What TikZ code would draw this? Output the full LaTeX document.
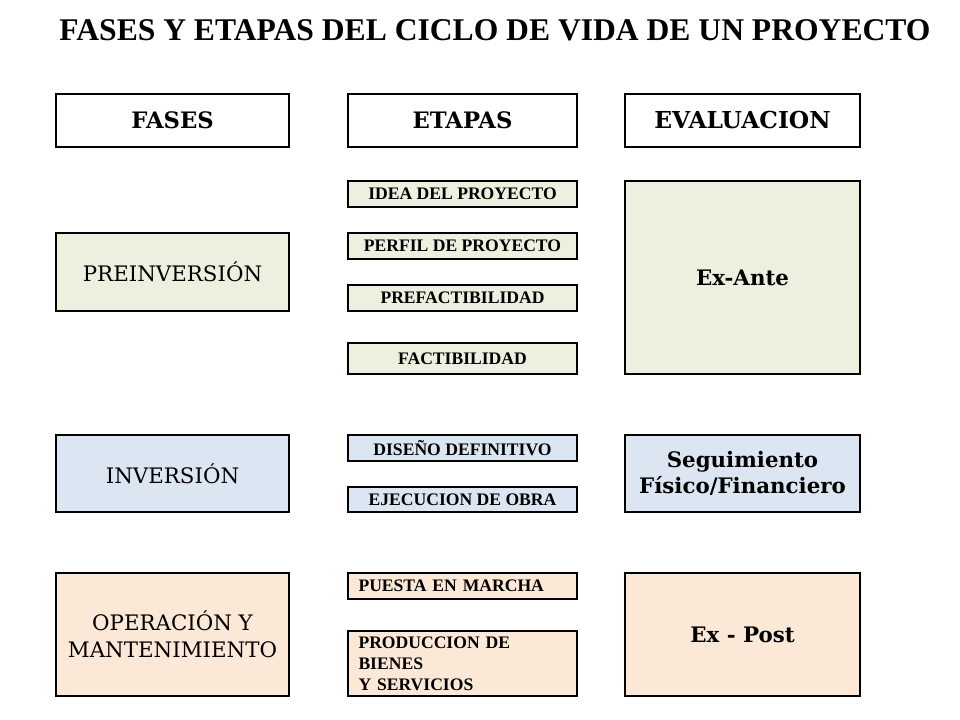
\documentclass[tikz,border=0pt]{standalone}
\usepackage{fontspec}
\setmainfont{DejaVu Serif}
\newfontfamily\titlefont{Liberation Serif}
\usetikzlibrary{positioning,calc}
\definecolor{verde}{HTML}{EBF1DE}
\definecolor{azul}{HTML}{DCE6F2}
\definecolor{durazno}{HTML}{FBE8D6}
\tikzstyle{caja} = [draw=black,line width=1.4pt,rectangle,inner sep=0pt,align=center]
\tikzstyle{cfase} = [caja,minimum width=174.75pt,font=\fontsize{16}{20}\selectfont]
\tikzstyle{cetapa} = [caja,minimum width=171.75pt,minimum height=19.5pt,font=\titlefont\fontsize{13.2}{15.75}\selectfont\bfseries]
\tikzstyle{ceval} = [caja,minimum width=176.25pt,font=\fontsize{16}{20}\selectfont\bfseries]
\begin{document}
\begin{tikzpicture}[x=0.75pt,y=-0.75pt]
    \useasboundingbox (0,0) rectangle (960,720);
    \node[font=\titlefont\fontsize{23.7}{26}\selectfont\bfseries](titulo) at (495,30){FASES Y ETAPAS DEL CICLO DE VIDA DE UN PROYECTO};
    % encabezados
    \node[cfase,minimum height=39.75pt,font=\fontsize{17}{20}\selectfont\bfseries](fases) at (172.5,120.5){FASES};
    \node[cetapa,minimum height=39.75pt,font=\fontsize{17}{20}\selectfont\bfseries](etapas) at (462.5,120.5){ETAPAS};
    \node[ceval,minimum height=39.75pt,font=\fontsize{17.5}{20}\selectfont\bfseries](evaluacion) at (742.5,120.5){EVALUACION};
    % preinversion
    \node[cfase,fill=verde,minimum height=58.5pt](preinv) at (172.5,272){PREINVERSIÓN};
    \node[cetapa,fill=verde](idea) at (462.5,194){IDEA DEL PROYECTO};
    \node[cetapa,fill=verde](perfil) at (462.5,246){PERFIL DE PROYECTO};
    \node[cetapa,fill=verde](prefact) at (462.5,298){PREFACTIBILIDAD};
    \node[cetapa,fill=verde,minimum height=23.25pt](fact) at (462.5,358.5){FACTIBILIDAD};
    \node[ceval,fill=verde,minimum height=144.75pt](exante) at (742.5,277.5){Ex-Ante};
    % inversion
    \node[cfase,fill=azul,minimum height=57.75pt](inv) at (172.5,473.5){INVERSIÓN};
    \node[cetapa,fill=azul](diseno) at (462.5,448){DISEÑO DEFINITIVO};
    \node[cetapa,fill=azul,minimum height=18.75pt](ejec) at (462.5,499.5){EJECUCION DE OBRA};
    \node[ceval,fill=azul,minimum height=57.75pt](seguim) at (742.5,473.5){Seguimiento\\Físico/Financiero};
    % operacion
    \node[cfase,fill=durazno,minimum height=92.25pt](oper) at (172.5,634.5){OPERACIÓN Y\\MANTENIMIENTO};
    \node[cetapa,fill=durazno,text width=156pt,align=left](puesta) at (462.5,586){PUESTA EN MARCHA};
    \node[cetapa,fill=durazno,minimum height=48.75pt,text width=156pt,align=left](prod) at (462.5,663.5){PRODUCCION DE\\BIENES\\Y SERVICIOS};
    \node[ceval,fill=durazno,minimum height=92.25pt](expost) at (742.5,634.5){Ex - Post};
\end{tikzpicture}
\end{document}
